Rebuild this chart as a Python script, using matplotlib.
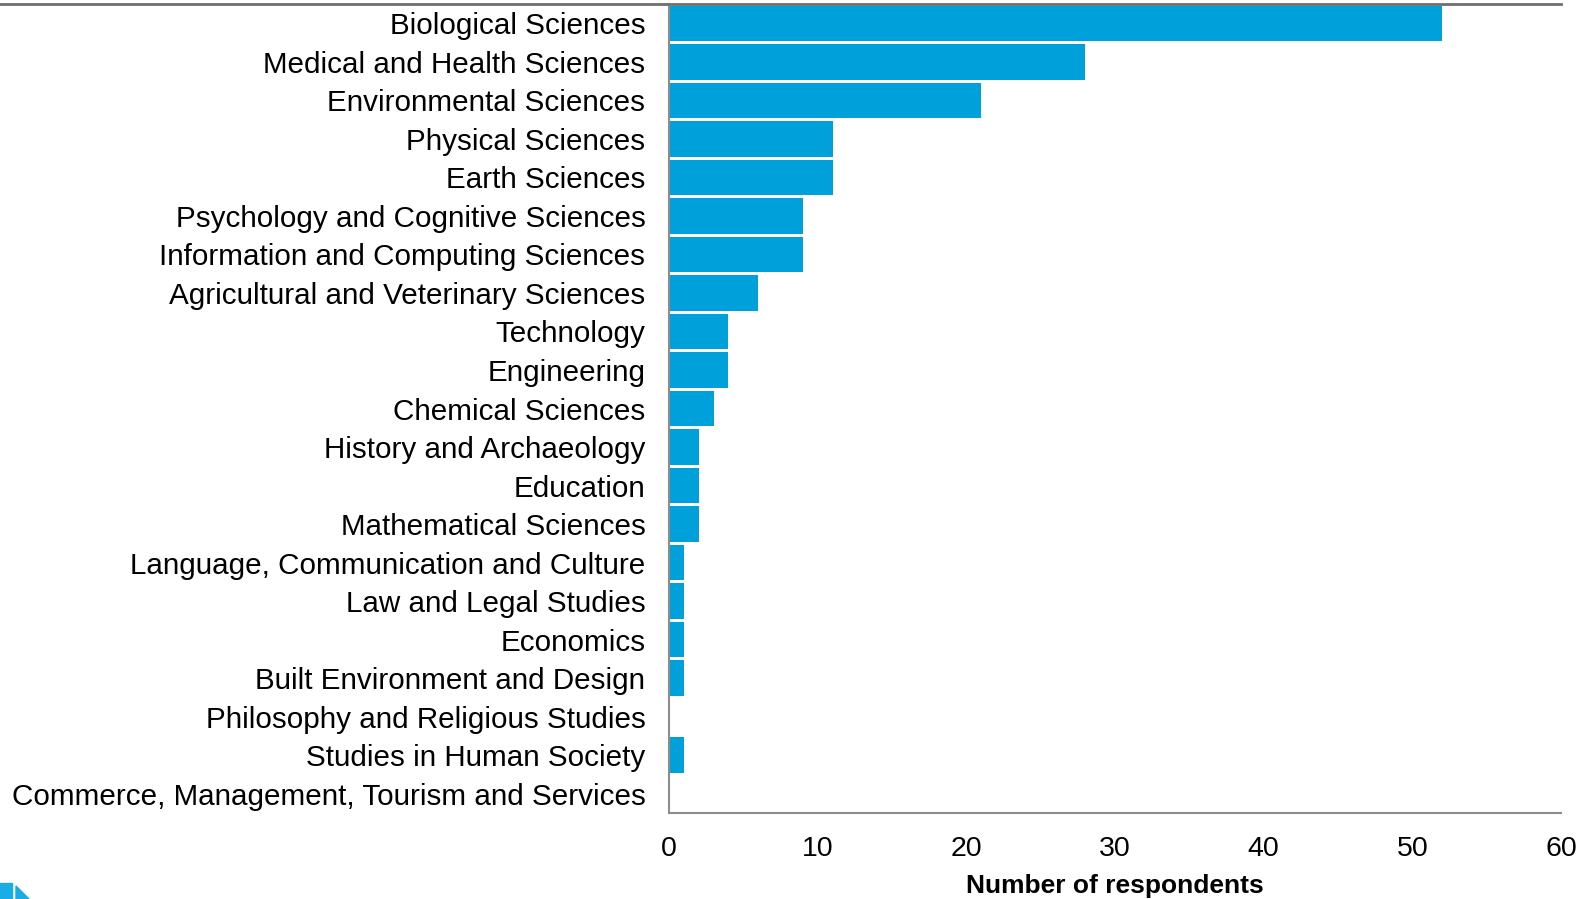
import matplotlib
matplotlib.use("Agg")
import matplotlib.pyplot as plt
from matplotlib.lines import Line2D
from matplotlib.patches import Polygon

categories = [
    "Biological Sciences",
    "Medical and Health Sciences",
    "Environmental Sciences",
    "Physical Sciences",
    "Earth Sciences",
    "Psychology and Cognitive Sciences",
    "Information and Computing Sciences",
    "Agricultural and Veterinary Sciences",
    "Technology",
    "Engineering",
    "Chemical Sciences",
    "History and Archaeology",
    "Education",
    "Mathematical Sciences",
    "Language, Communication and Culture",
    "Law and Legal Studies",
    "Economics",
    "Built Environment and Design",
    "Philosophy and Religious Studies",
    "Studies in Human Society",
    "Commerce, Management, Tourism and Services",
]
values = [52, 28, 21, 11, 11, 9, 9, 6, 4, 4, 3, 2, 2, 2, 1, 1, 1, 1, 0, 1, 0]
xticks = [0, 10, 20, 30, 40, 50, 60]
xlabel = "Number of respondents"

plt.rcParams['font.family'] = ['Liberation Sans', 'DejaVu Sans']

W, H = 1592, 899
fig = plt.figure(figsize=(W / 100, H / 100), dpi=100)
ax = fig.add_axes([669 / W, 1 - 813 / H, (1561 - 669) / W, (813 - 4) / H])

bar_color = "#00A0DA"
ax.barh(range(len(categories)), values, height=0.92, color=bar_color)
ax.set_ylim(len(categories) - 0.5, -0.5)
ax.set_xlim(0, 60)
ax.set_yticks(range(len(categories)))
ax.set_yticklabels(categories, fontsize=21.35)
ax.set_xticks(xticks)
ax.set_xticklabels([str(t) for t in xticks], fontsize=20.5)
ax.tick_params(axis='y', length=0, pad=17)
ax.tick_params(axis='x', length=0, pad=16.5)
ax.set_xlabel(xlabel, fontsize=19, fontweight='bold')
ax.xaxis.set_label_coords((1115 - 669) / (1561 - 669), -(874 - 813) / (813 - 4))

for s in ["top", "right"]:
    ax.spines[s].set_visible(False)
for s in ["left", "bottom"]:
    ax.spines[s].set_color("#8c8c8c")
    ax.spines[s].set_linewidth(1.5)

# top rule across figure
fig.add_artist(Line2D([0, 1561 / W], [1 - 4 / H, 1 - 4 / H], transform=fig.transFigure,
                      color="#6e6e6e", linewidth=2))

# logo fragment bottom-left
logo_color = "#1AACE6"
fig.add_artist(Polygon([[0, 0], [12 / W, 0], [12 / W, (899 - 883) / H], [0, (899 - 883) / H]],
                       closed=True, transform=fig.transFigure, color=logo_color))
fig.add_artist(Polygon([[16 / W, 0], [29 / W, 0], [16 / W, (899 - 886) / H]],
                       closed=True, transform=fig.transFigure, color=logo_color))

fig.savefig("out.png", dpi=100)
